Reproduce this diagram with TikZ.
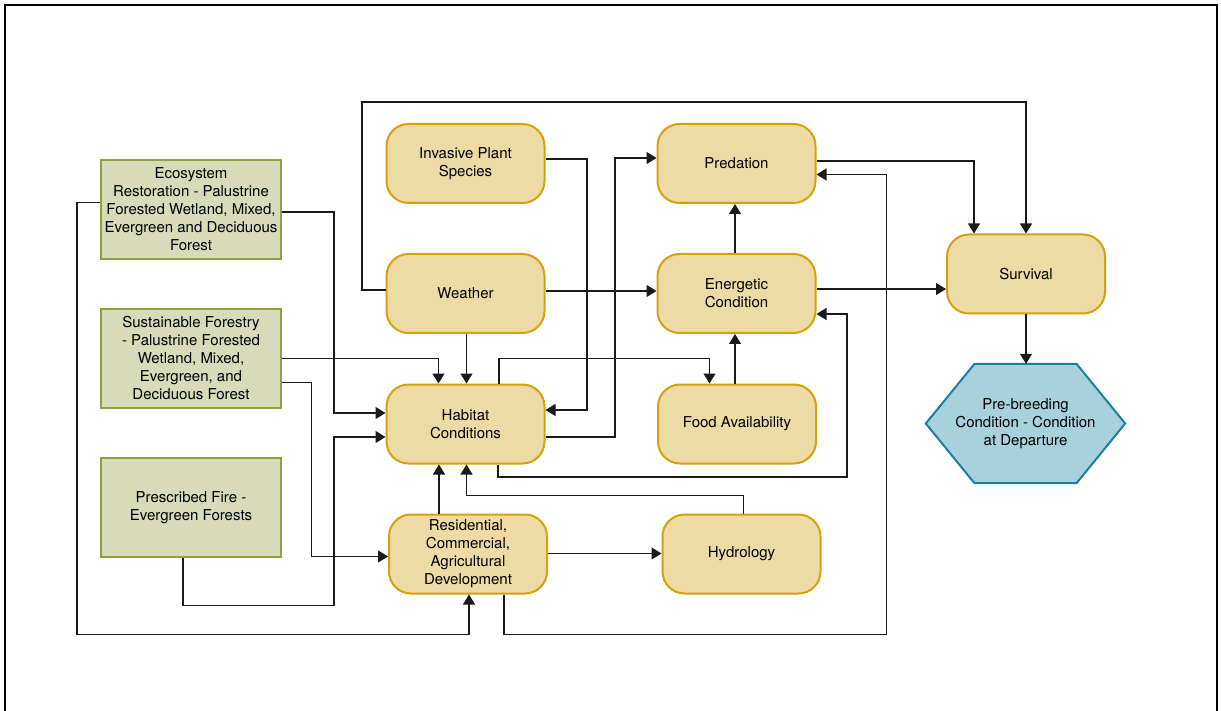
\documentclass[tikz,border=0pt]{standalone}
\usepackage{fontspec}
\setmainfont{TeX Gyre Heros}
\usetikzlibrary{arrows.meta}
\definecolor{yfill}{HTML}{EDDAA5}
\definecolor{ydraw}{HTML}{D4A20E}
\definecolor{gfill}{HTML}{D7DBBA}
\definecolor{gdraw}{HTML}{8FA03D}
\definecolor{bfill}{HTML}{A8D1DE}
\definecolor{bdraw}{HTML}{1A80A0}
\definecolor{linec}{HTML}{1A1A1A}
\pgfdeclarelayer{bg}
\pgfsetlayers{bg,main}
\tikzset{
  txt/.style={align=center, font=\fontsize{15}{18}\selectfont, text=black, inner sep=0pt},
  factor/.style={txt, draw=ydraw, fill=yfill, line width=2pt, rounded corners=22pt,
    minimum width=158pt, minimum height=79pt},
  action/.style={txt, draw=gdraw, fill=gfill, line width=2pt,
    minimum width=180pt, minimum height=99pt},
  hexbox/.style={txt, minimum width=199pt, minimum height=119pt},
  arr/.style={draw=linec, line width=1.1pt, -{Triangle[length=10pt,width=12pt]}},
}
\begin{document}
\begin{tikzpicture}[x=1pt,y=-1pt]
\useasboundingbox (0,0) rectangle (1221,711);
\draw[line width=2.2pt] (5,720) -- (5,5) -- (1217,5) -- (1217,720);

% action boxes
\node[action] (eco) at (191,209.5) {Ecosystem\\Restoration - Palustrine\\Forested Wetland, Mixed,\\Evergreen and Deciduous\\Forest};
\node[action] (sus) at (191,358.5) {Sustainable Forestry\\- Palustrine Forested\\Wetland, Mixed,\\Evergreen, and\\Deciduous Forest};
\node[action] (fire) at (191,507.5) {Prescribed Fire -\\Evergreen Forests};

% factor boxes
\node[factor] (inv) at (465.5,163.5) {Invasive Plant\\Species};
\node[factor] (wea) at (465.5,293.5) {Weather};
\node[factor] (hab) at (465.5,424) {Habitat\\Conditions};
\node[factor] (res) at (468,554) {Residential,\\Commercial,\\Agricultural\\Development};
\node[factor] (pred) at (736.5,163.5) {Predation};
\node[factor] (ener) at (736.5,293.5) {Energetic\\Condition};
\node[factor] (food) at (737,424) {Food Availability};
\node[factor] (hyd) at (741.5,554) {Hydrology};
\node[factor] (surv) at (1026,274) {Survival};

% hexagon
\node[hexbox] (hex) at (1025.5,423.5) {Pre-breeding\\Condition - Condition\\at Departure};
\begin{pgfonlayer}{bg}
\draw[draw=bdraw, fill=bfill, line width=2pt]
  (hex.west) -- ([xshift=-51pt]hex.north) -- ([xshift=51pt]hex.north) -- (hex.east)
  -- ([xshift=51pt]hex.south) -- ([xshift=-51pt]hex.south) -- cycle;
\end{pgfonlayer}

% connectors
\draw[arr] (wea.west |- 0,290) -- (362,290) -- (362,102) -- (1026,102) -- (surv.north);
\draw[arr] (pred.east |- 0,161) -- (974,161) -- (surv.north -| 974,0);
\draw[arr] (ener.east |- 0,289) -- (surv.west |- 0,289);
\draw[arr] (surv.south) -- (hex.north -| surv.south);
\draw[arr] (ener.north -| 735,0) -- (pred.south -| 735,0);
\draw[arr] (food.north -| 735,0) -- (ener.south -| 735,0);
\draw[arr] (wea.east |- 0,291) -- (ener.west |- 0,291);
\draw[arr] (inv.east |- 0,159) -- (587,159) -- (587,410) -- (hab.east |- 0,410);
\draw[arr] (hab.east |- 0,437) -- (615,437) -- (615,158) -- (pred.west |- 0,158);
\draw[arr] (hab.north -| 499,0) -- (499,358.5) -- (709.5,358.5) -- (food.north -| 709.5,0);
\draw[arr] (hab.south -| 498,0) -- (498,477) -- (847,477) -- (847,314) -- (ener.east |- 0,314);
\draw[arr] (res.south -| 504,0) -- (504,634.5) -- (886.5,634.5) -- (886.5,174.5) -- (pred.east |- 0,174.5);
\draw[arr] (wea.south -| 466.5,0) -- (hab.north -| 466.5,0);
\draw[arr] (sus.east |- 0,358.5) -- (438.5,358.5) -- (hab.north -| 438.5,0);
\draw[arr] (eco.east |- 0,212) -- (334,212) -- (334,413) -- (hab.west |- 0,413);
\draw[arr] (fire.south -| 183,0) -- (183,605.5) -- (334,605.5) -- (334,437) -- (hab.west |- 0,437);
\draw[arr] (sus.east |- 0,382.5) -- (311.5,382.5) -- (311.5,556.5) -- (res.west |- 0,556.5);
\draw[arr] (eco.west |- 0,202.5) -- (77,202.5) -- (77,634.5) -- (469,634.5) -- (res.south -| 469,0);
\draw[arr] (res.north -| 439,0) -- (hab.south -| 439,0);
\draw[arr] (hyd.north -| 743.5,0) -- (743.5,495.5) -- (466.5,495.5) -- (hab.south -| 466.5,0);
\draw[arr] (res.east |- 0,553.5) -- (hyd.west |- 0,553.5);
\end{tikzpicture}
\end{document}
